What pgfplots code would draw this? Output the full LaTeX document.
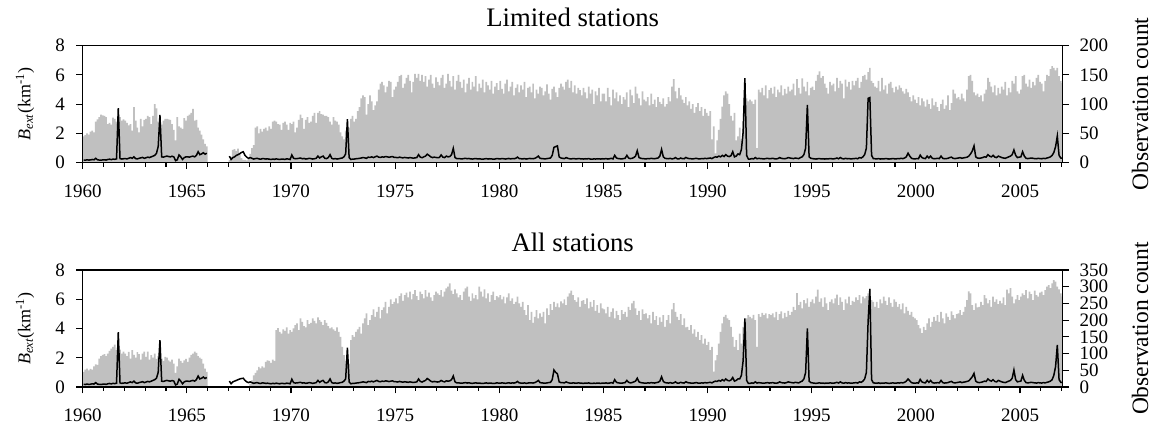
\documentclass[border=0pt]{standalone}
\usepackage{fontspec}
\setmainfont{Liberation Serif}
\usepackage{pgfplots}
\usepackage{pgfplotstable}
\pgfplotsset{compat=1.18}
\definecolor{bargray}{RGB}{192,192,192}

% monthly observation counts, limited stations (Jan 1960 ... Jan 2007, plus closing value)
\pgfplotstableread[row sep=\\, header=false]{
45\\ 47\\ 50\\ 48\\ 53\\ 55\\ 52\\ 70\\ 74\\ 78\\ 82\\ 81\\
80\\ 78\\ 66\\ 68\\ 65\\ 77\\ 75\\ 70\\ 68\\ 78\\ 72\\ 74\\
72\\ 68\\ 64\\ 66\\ 55\\ 95\\ 72\\ 60\\ 52\\ 75\\ 62\\ 73\\
75\\ 80\\ 78\\ 66\\ 80\\ 100\\ 93\\ 70\\ 55\\ 65\\ 72\\ 75\\
75\\ 74\\ 73\\ 66\\ 56\\ 38\\ 78\\ 62\\ 60\\ 58\\ 76\\ 72\\
80\\ 82\\ 85\\ 92\\ 72\\ 73\\ 60\\ 55\\ 48\\ 40\\ 32\\ 28\\
0\\ 0\\ 0\\ 0\\ 0\\ 0\\ 0\\ 0\\ 0\\ 0\\ 0\\ 0\\
5\\ 10\\ 22\\ 23\\ 20\\ 24\\ 15\\ 8\\ 5\\ 5\\ 4\\ 6\\
15\\ 25\\ 30\\ 60\\ 62\\ 50\\ 58\\ 53\\ 58\\ 60\\ 55\\ 62\\
58\\ 70\\ 72\\ 70\\ 66\\ 65\\ 56\\ 68\\ 70\\ 65\\ 56\\ 68\\
66\\ 70\\ 52\\ 60\\ 73\\ 82\\ 76\\ 58\\ 73\\ 78\\ 68\\ 70\\
80\\ 85\\ 68\\ 85\\ 88\\ 83\\ 82\\ 80\\ 80\\ 78\\ 70\\ 65\\
78\\ 72\\ 70\\ 65\\ 52\\ 45\\ 40\\ 55\\ 50\\ 60\\ 75\\ 80\\
70\\ 75\\ 88\\ 95\\ 110\\ 115\\ 112\\ 82\\ 100\\ 115\\ 105\\ 90\\
98\\ 105\\ 125\\ 135\\ 138\\ 132\\ 120\\ 130\\ 140\\ 138\\ 112\\ 125\\
130\\ 138\\ 148\\ 150\\ 128\\ 135\\ 145\\ 150\\ 140\\ 120\\ 138\\ 152\\
145\\ 152\\ 140\\ 150\\ 138\\ 148\\ 130\\ 142\\ 150\\ 135\\ 128\\ 146\\
138\\ 132\\ 145\\ 150\\ 128\\ 135\\ 152\\ 140\\ 130\\ 148\\ 125\\ 140\\
150\\ 138\\ 128\\ 142\\ 120\\ 135\\ 145\\ 125\\ 138\\ 130\\ 148\\ 122\\
135\\ 128\\ 142\\ 120\\ 138\\ 132\\ 125\\ 140\\ 118\\ 130\\ 136\\ 124\\
140\\ 126\\ 118\\ 135\\ 142\\ 122\\ 130\\ 138\\ 115\\ 128\\ 134\\ 120\\
132\\ 125\\ 138\\ 112\\ 128\\ 130\\ 120\\ 135\\ 110\\ 125\\ 118\\ 130\\
128\\ 115\\ 122\\ 134\\ 118\\ 108\\ 126\\ 130\\ 120\\ 112\\ 128\\ 135\\
130\\ 125\\ 138\\ 142\\ 128\\ 140\\ 120\\ 132\\ 118\\ 128\\ 124\\ 115\\
128\\ 120\\ 110\\ 130\\ 118\\ 125\\ 100\\ 122\\ 115\\ 128\\ 105\\ 118\\
118\\ 105\\ 128\\ 112\\ 98\\ 125\\ 110\\ 120\\ 105\\ 115\\ 100\\ 112\\
108\\ 120\\ 95\\ 125\\ 115\\ 102\\ 130\\ 118\\ 110\\ 98\\ 122\\ 108\\
105\\ 112\\ 98\\ 118\\ 100\\ 108\\ 95\\ 112\\ 104\\ 100\\ 110\\ 96\\
100\\ 112\\ 105\\ 130\\ 143\\ 122\\ 110\\ 128\\ 115\\ 108\\ 102\\ 112\\
98\\ 105\\ 92\\ 100\\ 85\\ 95\\ 102\\ 88\\ 95\\ 80\\ 92\\ 85\\
80\\ 88\\ 40\\ 62\\ 16\\ 38\\ 56\\ 75\\ 96\\ 115\\ 122\\ 118\\
100\\ 80\\ 72\\ 85\\ 38\\ 45\\ 60\\ 40\\ 70\\ 95\\ 110\\ 105\\
108\\ 105\\ 100\\ 108\\ 25\\ 125\\ 120\\ 128\\ 115\\ 132\\ 110\\ 124\\
128\\ 118\\ 130\\ 112\\ 125\\ 120\\ 132\\ 115\\ 126\\ 118\\ 130\\ 122\\
125\\ 135\\ 115\\ 143\\ 128\\ 118\\ 144\\ 130\\ 122\\ 138\\ 115\\ 128\\
130\\ 124\\ 140\\ 150\\ 156\\ 145\\ 148\\ 135\\ 128\\ 118\\ 138\\ 132\\
135\\ 122\\ 145\\ 128\\ 140\\ 135\\ 110\\ 142\\ 130\\ 138\\ 125\\ 140\\
132\\ 140\\ 145\\ 128\\ 138\\ 148\\ 150\\ 142\\ 155\\ 162\\ 140\\ 136\\
130\\ 128\\ 140\\ 122\\ 145\\ 125\\ 132\\ 118\\ 135\\ 138\\ 128\\ 120\\
130\\ 125\\ 132\\ 128\\ 122\\ 118\\ 126\\ 120\\ 112\\ 105\\ 115\\ 108\\
102\\ 112\\ 98\\ 110\\ 105\\ 96\\ 108\\ 100\\ 92\\ 110\\ 98\\ 104\\
95\\ 88\\ 100\\ 108\\ 92\\ 98\\ 115\\ 90\\ 102\\ 125\\ 118\\ 110\\
112\\ 108\\ 118\\ 110\\ 105\\ 125\\ 148\\ 150\\ 140\\ 120\\ 115\\ 118\\
112\\ 115\\ 105\\ 118\\ 125\\ 145\\ 138\\ 130\\ 120\\ 132\\ 115\\ 128\\
118\\ 130\\ 125\\ 138\\ 115\\ 128\\ 120\\ 140\\ 135\\ 148\\ 122\\ 118\\
125\\ 148\\ 150\\ 135\\ 130\\ 142\\ 128\\ 138\\ 132\\ 145\\ 150\\ 138\\
135\\ 122\\ 140\\ 150\\ 148\\ 160\\ 165\\ 162\\ 158\\ 162\\ 148\\ 140\\
136\\ 136\\
}\barsA

% monthly observation counts, all stations
\pgfplotstableread[row sep=\\, header=false]{
45\\ 52\\ 55\\ 50\\ 54\\ 52\\ 62\\ 68\\ 66\\ 85\\ 92\\ 96\\
98\\ 92\\ 100\\ 108\\ 115\\ 120\\ 127\\ 110\\ 105\\ 112\\ 100\\ 106\\
100\\ 92\\ 105\\ 85\\ 110\\ 96\\ 88\\ 104\\ 98\\ 82\\ 100\\ 106\\
90\\ 106\\ 82\\ 95\\ 88\\ 100\\ 84\\ 92\\ 80\\ 85\\ 78\\ 90\\
88\\ 80\\ 76\\ 82\\ 70\\ 42\\ 62\\ 85\\ 78\\ 72\\ 80\\ 84\\
75\\ 88\\ 96\\ 100\\ 106\\ 102\\ 92\\ 88\\ 84\\ 70\\ 55\\ 45\\
0\\ 0\\ 0\\ 0\\ 0\\ 0\\ 0\\ 0\\ 0\\ 0\\ 0\\ 0\\
0\\ 0\\ 0\\ 0\\ 0\\ 0\\ 0\\ 0\\ 0\\ 0\\ 0\\ 0\\
10\\ 20\\ 35\\ 42\\ 50\\ 60\\ 56\\ 62\\ 58\\ 75\\ 80\\ 78\\
72\\ 82\\ 78\\ 170\\ 176\\ 165\\ 160\\ 172\\ 168\\ 178\\ 160\\ 170\\
165\\ 175\\ 185\\ 190\\ 170\\ 205\\ 195\\ 182\\ 178\\ 200\\ 188\\ 192\\
205\\ 198\\ 190\\ 208\\ 200\\ 195\\ 185\\ 200\\ 192\\ 182\\ 175\\ 178\\
172\\ 168\\ 178\\ 165\\ 150\\ 120\\ 95\\ 78\\ 85\\ 70\\ 140\\ 155\\
150\\ 165\\ 172\\ 180\\ 160\\ 190\\ 205\\ 220\\ 185\\ 200\\ 215\\ 232\\
210\\ 225\\ 240\\ 205\\ 230\\ 238\\ 255\\ 220\\ 240\\ 262\\ 248\\ 255\\
265\\ 250\\ 272\\ 280\\ 258\\ 275\\ 282\\ 268\\ 285\\ 262\\ 278\\ 290\\
272\\ 260\\ 285\\ 278\\ 265\\ 290\\ 270\\ 282\\ 268\\ 258\\ 275\\ 285\\
280\\ 275\\ 290\\ 270\\ 285\\ 295\\ 300\\ 310\\ 288\\ 278\\ 292\\ 280\\
268\\ 275\\ 260\\ 285\\ 295\\ 300\\ 270\\ 258\\ 280\\ 265\\ 275\\ 262\\
300\\ 285\\ 270\\ 292\\ 265\\ 280\\ 255\\ 275\\ 285\\ 260\\ 272\\ 268\\
275\\ 262\\ 270\\ 250\\ 268\\ 280\\ 258\\ 265\\ 248\\ 255\\ 270\\ 250\\
240\\ 255\\ 230\\ 215\\ 245\\ 200\\ 225\\ 192\\ 210\\ 230\\ 205\\ 220\\
210\\ 225\\ 190\\ 235\\ 215\\ 248\\ 230\\ 255\\ 240\\ 250\\ 238\\ 256\\
250\\ 262\\ 245\\ 270\\ 280\\ 288\\ 275\\ 260\\ 255\\ 268\\ 240\\ 258\\
260\\ 248\\ 265\\ 235\\ 255\\ 240\\ 260\\ 228\\ 245\\ 222\\ 250\\ 235\\
232\\ 220\\ 240\\ 210\\ 225\\ 235\\ 205\\ 228\\ 215\\ 200\\ 230\\ 218\\
225\\ 210\\ 240\\ 230\\ 250\\ 258\\ 235\\ 215\\ 228\\ 200\\ 232\\ 218\\
220\\ 205\\ 215\\ 190\\ 225\\ 200\\ 212\\ 185\\ 208\\ 195\\ 215\\ 180\\
200\\ 215\\ 190\\ 232\\ 251\\ 225\\ 210\\ 200\\ 218\\ 185\\ 205\\ 178\\
180\\ 170\\ 185\\ 160\\ 172\\ 150\\ 165\\ 140\\ 155\\ 130\\ 145\\ 125\\
135\\ 110\\ 120\\ 46\\ 80\\ 95\\ 130\\ 165\\ 190\\ 210\\ 216\\ 205\\
200\\ 180\\ 150\\ 120\\ 140\\ 110\\ 160\\ 130\\ 180\\ 196\\ 205\\ 215\\
210\\ 205\\ 216\\ 200\\ 120\\ 218\\ 210\\ 222\\ 215\\ 220\\ 205\\ 218\\
215\\ 220\\ 208\\ 225\\ 200\\ 218\\ 226\\ 205\\ 222\\ 210\\ 228\\ 215\\
225\\ 240\\ 230\\ 281\\ 245\\ 255\\ 235\\ 260\\ 250\\ 265\\ 240\\ 255\\
262\\ 250\\ 270\\ 291\\ 255\\ 265\\ 240\\ 268\\ 250\\ 230\\ 255\\ 262\\
250\\ 265\\ 276\\ 245\\ 268\\ 255\\ 230\\ 262\\ 250\\ 270\\ 245\\ 258\\
255\\ 268\\ 260\\ 275\\ 250\\ 270\\ 265\\ 272\\ 280\\ 294\\ 260\\ 255\\
240\\ 255\\ 236\\ 262\\ 250\\ 270\\ 258\\ 245\\ 268\\ 252\\ 240\\ 262\\
255\\ 240\\ 248\\ 232\\ 250\\ 220\\ 240\\ 228\\ 216\\ 225\\ 210\\ 205\\
200\\ 185\\ 175\\ 161\\ 180\\ 170\\ 190\\ 205\\ 180\\ 195\\ 210\\ 198\\
215\\ 195\\ 225\\ 205\\ 190\\ 220\\ 210\\ 200\\ 226\\ 215\\ 205\\ 218\\
220\\ 230\\ 215\\ 225\\ 240\\ 260\\ 286\\ 280\\ 245\\ 230\\ 250\\ 238\\
240\\ 255\\ 245\\ 275\\ 265\\ 250\\ 260\\ 240\\ 270\\ 255\\ 262\\ 248\\
258\\ 250\\ 268\\ 245\\ 291\\ 280\\ 296\\ 270\\ 250\\ 262\\ 275\\ 260\\
270\\ 280\\ 275\\ 290\\ 265\\ 285\\ 278\\ 260\\ 288\\ 275\\ 270\\ 282\\
285\\ 275\\ 290\\ 300\\ 305\\ 296\\ 310\\ 320\\ 315\\ 300\\ 292\\ 280\\
270\\ 270\\
}\barsB

% monthly B_ext (km^-1), limited stations, mid-month values
\pgfplotstableread[row sep=\\, header=false]{
0.18\\ 0.17\\ 0.20\\ 0.18\\ 0.19\\ 0.22\\ 0.20\\ 0.30\\ 0.20\\ 0.18\\ 0.17\\ 0.19\\
0.20\\ 0.18\\ 0.22\\ 0.24\\ 0.21\\ 0.25\\ 0.23\\ 0.26\\ 3.73\\ 0.28\\ 0.25\\ 0.27\\
0.28\\ 0.26\\ 0.30\\ 0.35\\ 0.30\\ 0.40\\ 0.28\\ 0.26\\ 0.30\\ 0.33\\ 0.36\\ 0.30\\
0.34\\ 0.38\\ 0.35\\ 0.40\\ 0.45\\ 0.50\\ 0.64\\ 1.10\\ 3.27\\ 0.40\\ 0.38\\ 0.42\\
0.45\\ 0.42\\ 0.40\\ 0.44\\ 0.40\\ 0.14\\ 0.20\\ 0.53\\ 0.40\\ 0.22\\ 0.35\\ 0.40\\
0.40\\ 0.38\\ 0.42\\ 0.45\\ 0.40\\ 0.50\\ 0.75\\ 0.55\\ 0.60\\ 0.68\\ 0.58\\ 0.65\\
nan\\ nan\\ nan\\ nan\\ nan\\ nan\\ nan\\ nan\\ nan\\ nan\\ nan\\ nan\\
0.45\\ 0.22\\ 0.35\\ 0.40\\ 0.50\\ 0.55\\ 0.62\\ 0.70\\ 0.75\\ 0.50\\ 0.38\\ 0.30\\
0.35\\ 0.30\\ 0.25\\ 0.28\\ 0.30\\ 0.26\\ 0.24\\ 0.28\\ 0.27\\ 0.25\\ 0.26\\ 0.24\\
0.22\\ 0.25\\ 0.23\\ 0.26\\ 0.24\\ 0.22\\ 0.25\\ 0.24\\ 0.23\\ 0.26\\ 0.25\\ 0.22\\
0.53\\ 0.30\\ 0.27\\ 0.28\\ 0.30\\ 0.32\\ 0.27\\ 0.29\\ 0.25\\ 0.27\\ 0.30\\ 0.28\\
0.25\\ 0.27\\ 0.30\\ 0.45\\ 0.32\\ 0.40\\ 0.45\\ 0.30\\ 0.28\\ 0.35\\ 0.55\\ 0.30\\
0.26\\ 0.28\\ 0.25\\ 0.27\\ 0.30\\ 0.32\\ 0.40\\ 0.60\\ 2.97\\ 0.35\\ 0.22\\ 0.25\\
0.25\\ 0.27\\ 0.28\\ 0.30\\ 0.32\\ 0.35\\ 0.33\\ 0.30\\ 0.38\\ 0.36\\ 0.40\\ 0.35\\
0.40\\ 0.45\\ 0.38\\ 0.36\\ 0.40\\ 0.38\\ 0.42\\ 0.40\\ 0.37\\ 0.40\\ 0.42\\ 0.36\\
0.36\\ 0.34\\ 0.38\\ 0.35\\ 0.33\\ 0.36\\ 0.34\\ 0.32\\ 0.35\\ 0.33\\ 0.31\\ 0.33\\
0.35\\ 0.55\\ 0.38\\ 0.34\\ 0.40\\ 0.45\\ 0.58\\ 0.50\\ 0.40\\ 0.35\\ 0.38\\ 0.36\\
0.34\\ 0.36\\ 0.53\\ 0.38\\ 0.35\\ 0.45\\ 0.40\\ 0.42\\ 0.55\\ 0.98\\ 0.35\\ 0.28\\
0.28\\ 0.27\\ 0.26\\ 0.28\\ 0.30\\ 0.27\\ 0.29\\ 0.26\\ 0.25\\ 0.27\\ 0.28\\ 0.26\\
0.27\\ 0.25\\ 0.24\\ 0.26\\ 0.28\\ 0.25\\ 0.27\\ 0.26\\ 0.24\\ 0.25\\ 0.28\\ 0.27\\
0.26\\ 0.28\\ 0.27\\ 0.25\\ 0.27\\ 0.29\\ 0.26\\ 0.28\\ 0.27\\ 0.30\\ 0.38\\ 0.28\\
0.27\\ 0.26\\ 0.28\\ 0.25\\ 0.27\\ 0.29\\ 0.28\\ 0.27\\ 0.30\\ 0.36\\ 0.45\\ 0.30\\
0.28\\ 0.27\\ 0.26\\ 0.28\\ 0.30\\ 0.32\\ 0.50\\ 1.05\\ 1.10\\ 1.15\\ 0.40\\ 0.32\\
0.30\\ 0.28\\ 0.35\\ 0.30\\ 0.27\\ 0.26\\ 0.28\\ 0.27\\ 0.26\\ 0.28\\ 0.27\\ 0.26\\
0.25\\ 0.27\\ 0.26\\ 0.28\\ 0.25\\ 0.24\\ 0.26\\ 0.25\\ 0.27\\ 0.26\\ 0.25\\ 0.27\\
0.26\\ 0.28\\ 0.25\\ 0.27\\ 0.30\\ 0.26\\ 0.50\\ 0.32\\ 0.28\\ 0.27\\ 0.26\\ 0.28\\
0.30\\ 0.50\\ 0.32\\ 0.28\\ 0.30\\ 0.35\\ 0.45\\ 0.82\\ 0.35\\ 0.30\\ 0.28\\ 0.27\\
0.26\\ 0.28\\ 0.27\\ 0.30\\ 0.28\\ 0.27\\ 0.30\\ 0.32\\ 0.45\\ 0.91\\ 0.40\\ 0.30\\
0.28\\ 0.27\\ 0.30\\ 0.26\\ 0.28\\ 0.35\\ 0.27\\ 0.26\\ 0.32\\ 0.28\\ 0.27\\ 0.36\\
0.30\\ 0.28\\ 0.27\\ 0.26\\ 0.28\\ 0.30\\ 0.27\\ 0.26\\ 0.28\\ 0.27\\ 0.30\\ 0.28\\
0.30\\ 0.32\\ 0.28\\ 0.35\\ 0.40\\ 0.38\\ 0.45\\ 0.40\\ 0.50\\ 0.42\\ 0.55\\ 0.45\\
0.42\\ 0.48\\ 0.75\\ 0.40\\ 0.45\\ 0.60\\ 0.55\\ 0.90\\ 2.10\\ 5.78\\ 0.50\\ 0.25\\
0.25\\ 0.28\\ 0.26\\ 0.35\\ 0.27\\ 0.30\\ 0.28\\ 0.27\\ 0.26\\ 0.28\\ 0.30\\ 0.27\\
0.28\\ 0.30\\ 0.27\\ 0.26\\ 0.28\\ 0.35\\ 0.30\\ 0.28\\ 0.27\\ 0.30\\ 0.35\\ 0.32\\
0.30\\ 0.28\\ 0.32\\ 0.30\\ 0.28\\ 0.35\\ 0.40\\ 0.55\\ 1.00\\ 3.95\\ 0.40\\ 0.30\\
0.28\\ 0.26\\ 0.25\\ 0.27\\ 0.28\\ 0.26\\ 0.27\\ 0.25\\ 0.27\\ 0.26\\ 0.28\\ 0.27\\
0.26\\ 0.28\\ 0.32\\ 0.27\\ 0.35\\ 0.28\\ 0.26\\ 0.30\\ 0.27\\ 0.28\\ 0.26\\ 0.27\\
0.28\\ 0.30\\ 0.27\\ 0.35\\ 0.32\\ 0.40\\ 0.55\\ 1.00\\ 4.40\\ 4.45\\ 0.50\\ 0.28\\
0.27\\ 0.26\\ 0.28\\ 0.25\\ 0.27\\ 0.26\\ 0.28\\ 0.27\\ 0.25\\ 0.26\\ 0.28\\ 0.27\\
0.26\\ 0.28\\ 0.27\\ 0.30\\ 0.28\\ 0.32\\ 0.40\\ 0.65\\ 0.45\\ 0.30\\ 0.27\\ 0.26\\
0.28\\ 0.27\\ 0.52\\ 0.35\\ 0.30\\ 0.28\\ 0.45\\ 0.32\\ 0.45\\ 0.30\\ 0.27\\ 0.28\\
0.30\\ 0.28\\ 0.45\\ 0.30\\ 0.27\\ 0.28\\ 0.30\\ 0.35\\ 0.38\\ 0.30\\ 0.28\\ 0.30\\
0.32\\ 0.35\\ 0.30\\ 0.33\\ 0.35\\ 0.38\\ 0.45\\ 0.60\\ 0.80\\ 1.15\\ 0.40\\ 0.32\\
0.30\\ 0.32\\ 0.35\\ 0.40\\ 0.38\\ 0.55\\ 0.45\\ 0.40\\ 0.50\\ 0.38\\ 0.35\\ 0.45\\
0.40\\ 0.35\\ 0.32\\ 0.30\\ 0.35\\ 0.40\\ 0.45\\ 0.55\\ 0.87\\ 0.50\\ 0.35\\ 0.38\\
0.40\\ 0.75\\ 0.45\\ 0.30\\ 0.28\\ 0.30\\ 0.32\\ 0.30\\ 0.28\\ 0.27\\ 0.30\\ 0.28\\
0.27\\ 0.30\\ 0.28\\ 0.32\\ 0.35\\ 0.40\\ 0.50\\ 0.70\\ 1.10\\ 1.82\\ 0.50\\ 0.32\\
0.30\\
}\lineA

% monthly B_ext (km^-1), all stations
\pgfplotstableread[row sep=\\, header=false]{
0.18\\ 0.17\\ 0.20\\ 0.18\\ 0.19\\ 0.22\\ 0.20\\ 0.30\\ 0.20\\ 0.18\\ 0.17\\ 0.19\\
0.20\\ 0.18\\ 0.22\\ 0.24\\ 0.21\\ 0.25\\ 0.23\\ 0.26\\ 3.75\\ 0.28\\ 0.25\\ 0.27\\
0.28\\ 0.26\\ 0.30\\ 0.35\\ 0.30\\ 0.40\\ 0.28\\ 0.26\\ 0.30\\ 0.33\\ 0.36\\ 0.30\\
0.34\\ 0.38\\ 0.35\\ 0.40\\ 0.45\\ 0.50\\ 0.60\\ 1.00\\ 3.21\\ 0.40\\ 0.38\\ 0.42\\
0.45\\ 0.42\\ 0.40\\ 0.44\\ 0.40\\ 0.14\\ 0.20\\ 0.53\\ 0.40\\ 0.22\\ 0.35\\ 0.40\\
0.40\\ 0.38\\ 0.42\\ 0.45\\ 0.40\\ 0.50\\ 0.75\\ 0.55\\ 0.60\\ 0.68\\ 0.58\\ 0.65\\
nan\\ nan\\ nan\\ nan\\ nan\\ nan\\ nan\\ nan\\ nan\\ nan\\ nan\\ nan\\
0.40\\ 0.22\\ 0.35\\ 0.40\\ 0.45\\ 0.50\\ 0.55\\ 0.58\\ 0.60\\ 0.45\\ 0.35\\ 0.30\\
0.35\\ 0.30\\ 0.25\\ 0.28\\ 0.30\\ 0.26\\ 0.24\\ 0.28\\ 0.27\\ 0.25\\ 0.26\\ 0.24\\
0.22\\ 0.25\\ 0.23\\ 0.26\\ 0.24\\ 0.22\\ 0.25\\ 0.24\\ 0.23\\ 0.26\\ 0.25\\ 0.22\\
0.53\\ 0.30\\ 0.27\\ 0.28\\ 0.30\\ 0.32\\ 0.27\\ 0.29\\ 0.25\\ 0.27\\ 0.30\\ 0.28\\
0.25\\ 0.27\\ 0.30\\ 0.45\\ 0.32\\ 0.40\\ 0.45\\ 0.30\\ 0.28\\ 0.35\\ 0.55\\ 0.30\\
0.26\\ 0.28\\ 0.25\\ 0.27\\ 0.30\\ 0.32\\ 0.40\\ 0.55\\ 2.69\\ 0.35\\ 0.22\\ 0.25\\
0.25\\ 0.27\\ 0.28\\ 0.30\\ 0.32\\ 0.35\\ 0.33\\ 0.30\\ 0.38\\ 0.36\\ 0.40\\ 0.35\\
0.40\\ 0.45\\ 0.38\\ 0.36\\ 0.40\\ 0.38\\ 0.42\\ 0.40\\ 0.37\\ 0.40\\ 0.42\\ 0.36\\
0.36\\ 0.34\\ 0.38\\ 0.35\\ 0.33\\ 0.36\\ 0.34\\ 0.32\\ 0.35\\ 0.33\\ 0.31\\ 0.33\\
0.35\\ 0.55\\ 0.38\\ 0.34\\ 0.40\\ 0.45\\ 0.58\\ 0.50\\ 0.40\\ 0.35\\ 0.38\\ 0.36\\
0.34\\ 0.36\\ 0.45\\ 0.38\\ 0.35\\ 0.42\\ 0.40\\ 0.42\\ 0.50\\ 0.75\\ 0.35\\ 0.28\\
0.28\\ 0.27\\ 0.26\\ 0.28\\ 0.30\\ 0.27\\ 0.29\\ 0.26\\ 0.25\\ 0.27\\ 0.28\\ 0.26\\
0.27\\ 0.25\\ 0.24\\ 0.26\\ 0.28\\ 0.25\\ 0.27\\ 0.26\\ 0.24\\ 0.25\\ 0.28\\ 0.27\\
0.26\\ 0.28\\ 0.27\\ 0.25\\ 0.27\\ 0.29\\ 0.26\\ 0.28\\ 0.27\\ 0.30\\ 0.38\\ 0.28\\
0.27\\ 0.26\\ 0.28\\ 0.25\\ 0.27\\ 0.29\\ 0.28\\ 0.27\\ 0.30\\ 0.36\\ 0.45\\ 0.30\\
0.28\\ 0.27\\ 0.26\\ 0.28\\ 0.30\\ 0.32\\ 0.50\\ 1.16\\ 1.00\\ 0.90\\ 0.35\\ 0.30\\
0.30\\ 0.28\\ 0.35\\ 0.30\\ 0.27\\ 0.26\\ 0.28\\ 0.27\\ 0.26\\ 0.28\\ 0.27\\ 0.26\\
0.25\\ 0.27\\ 0.26\\ 0.28\\ 0.25\\ 0.24\\ 0.26\\ 0.25\\ 0.27\\ 0.26\\ 0.25\\ 0.27\\
0.26\\ 0.28\\ 0.25\\ 0.27\\ 0.30\\ 0.26\\ 0.50\\ 0.32\\ 0.28\\ 0.27\\ 0.26\\ 0.28\\
0.30\\ 0.45\\ 0.32\\ 0.28\\ 0.30\\ 0.35\\ 0.40\\ 0.60\\ 0.35\\ 0.30\\ 0.28\\ 0.27\\
0.26\\ 0.28\\ 0.27\\ 0.30\\ 0.28\\ 0.27\\ 0.30\\ 0.32\\ 0.40\\ 0.70\\ 0.38\\ 0.30\\
0.28\\ 0.27\\ 0.30\\ 0.26\\ 0.28\\ 0.35\\ 0.27\\ 0.26\\ 0.32\\ 0.28\\ 0.27\\ 0.36\\
0.30\\ 0.28\\ 0.27\\ 0.26\\ 0.28\\ 0.30\\ 0.27\\ 0.26\\ 0.28\\ 0.27\\ 0.30\\ 0.28\\
0.30\\ 0.32\\ 0.28\\ 0.35\\ 0.40\\ 0.38\\ 0.45\\ 0.40\\ 0.50\\ 0.42\\ 0.55\\ 0.45\\
0.42\\ 0.48\\ 0.65\\ 0.40\\ 0.45\\ 0.55\\ 0.55\\ 0.80\\ 1.80\\ 4.69\\ 0.45\\ 0.25\\
0.25\\ 0.28\\ 0.26\\ 0.35\\ 0.27\\ 0.30\\ 0.28\\ 0.27\\ 0.26\\ 0.28\\ 0.30\\ 0.27\\
0.28\\ 0.30\\ 0.27\\ 0.26\\ 0.28\\ 0.35\\ 0.30\\ 0.28\\ 0.27\\ 0.30\\ 0.35\\ 0.32\\
0.30\\ 0.28\\ 0.32\\ 0.30\\ 0.28\\ 0.35\\ 0.40\\ 0.55\\ 1.00\\ 4.00\\ 0.40\\ 0.30\\
0.28\\ 0.26\\ 0.25\\ 0.27\\ 0.28\\ 0.26\\ 0.27\\ 0.25\\ 0.27\\ 0.26\\ 0.28\\ 0.27\\
0.26\\ 0.28\\ 0.32\\ 0.27\\ 0.35\\ 0.28\\ 0.26\\ 0.30\\ 0.27\\ 0.28\\ 0.26\\ 0.27\\
0.28\\ 0.30\\ 0.27\\ 0.35\\ 0.32\\ 0.40\\ 0.55\\ 1.00\\ 4.50\\ 6.70\\ 0.50\\ 0.28\\
0.27\\ 0.26\\ 0.28\\ 0.25\\ 0.27\\ 0.26\\ 0.28\\ 0.27\\ 0.25\\ 0.26\\ 0.28\\ 0.27\\
0.26\\ 0.28\\ 0.27\\ 0.30\\ 0.28\\ 0.32\\ 0.40\\ 0.55\\ 0.42\\ 0.30\\ 0.27\\ 0.26\\
0.28\\ 0.27\\ 0.52\\ 0.35\\ 0.30\\ 0.28\\ 0.45\\ 0.32\\ 0.45\\ 0.30\\ 0.27\\ 0.28\\
0.30\\ 0.28\\ 0.45\\ 0.30\\ 0.27\\ 0.28\\ 0.30\\ 0.35\\ 0.38\\ 0.30\\ 0.28\\ 0.30\\
0.32\\ 0.35\\ 0.30\\ 0.33\\ 0.35\\ 0.38\\ 0.42\\ 0.55\\ 0.70\\ 0.93\\ 0.40\\ 0.32\\
0.30\\ 0.32\\ 0.35\\ 0.40\\ 0.38\\ 0.55\\ 0.45\\ 0.40\\ 0.50\\ 0.38\\ 0.35\\ 0.45\\
0.40\\ 0.35\\ 0.32\\ 0.30\\ 0.35\\ 0.40\\ 0.45\\ 0.60\\ 1.16\\ 0.50\\ 0.35\\ 0.38\\
0.40\\ 0.80\\ 0.45\\ 0.30\\ 0.28\\ 0.30\\ 0.32\\ 0.30\\ 0.28\\ 0.27\\ 0.30\\ 0.28\\
0.27\\ 0.30\\ 0.28\\ 0.32\\ 0.35\\ 0.40\\ 0.50\\ 0.80\\ 1.40\\ 2.87\\ 0.50\\ 0.32\\
0.30\\
}\lineB

\pgfplotsset{
  panel/.style={
    scale only axis, width=980pt, height=117pt, anchor=south west,
    xmin=1960, xmax=2007.05,
    tick align=outside,
    major tick length=6.5pt, minor tick length=4pt,
    every tick/.style={black, line width=1.1pt},
    axis line style={line width=1.1pt},
    tick label style={font=\fontsize{19}{22}\selectfont},
    /pgf/number format/assume math mode=true,
    /pgf/number format/1000 sep={},
  },
  leftpanel/.style={
    panel, ymin=0, ymax=8, ytick={0,2,4,6,8},
    xtick={1960,1965,...,2005}, minor xtick={1960,...,2007},
    xtick pos=bottom, ytick pos=left,
    xticklabel style={anchor=base, inner sep=0pt, yshift=-28.1pt},
    yticklabel style={anchor=east, inner sep=0pt, xshift=-11.2pt},
    every axis title/.style={at={(axis description cs:0.5,1)}, anchor=base, yshift=19pt,
      font=\fontsize{26.7}{30}\selectfont},
    every axis y label/.style={at={(axis description cs:-0.0589,0.5)}, anchor=center, rotate=90,
      font=\fontsize{18}{20}\selectfont},
    ylabel={\textit{B}\textsubscript{\textit{ext}}(km\textsuperscript{-1})},
  },
  rightpanel/.style={
    panel, axis x line=none, axis y line*=right, ytick pos=right,
    yticklabel style={anchor=west, inner sep=0pt, xshift=10.1pt},
    every axis y label/.style={at={(axis description cs:1.0789,0.5)}, anchor=center, rotate=90,
      font=\fontsize{23.5}{26}\selectfont},
    ylabel={Observation count},
  },
}

\begin{document}
\begin{tikzpicture}
\useasboundingbox (0,0) rectangle (1157pt,430pt);

% upper panel: limited stations
\begin{axis}[rightpanel, at={(82.7pt,267.3pt)}, ymin=0, ymax=200, ytick={0,50,...,200}]
  \addplot[draw=none, fill=bargray, const plot mark left]
    table[x expr=1960+\coordindex/12, y index=0] {\barsA} \closedcycle;
\end{axis}
\begin{axis}[leftpanel, at={(82.7pt,267.3pt)}, title={Limited stations}]
  \addplot[black, line width=1.5pt, unbounded coords=jump]
    table[x expr=1960+(\coordindex+0.5)/12, y index=0] {\lineA};
\end{axis}

% lower panel: all stations
\begin{axis}[rightpanel, at={(82.7pt,43pt)}, ymin=0, ymax=350, ytick={0,50,...,350}]
  \addplot[draw=none, fill=bargray, const plot mark left]
    table[x expr=1960+\coordindex/12, y index=0] {\barsB} \closedcycle;
\end{axis}
\begin{axis}[leftpanel, at={(82.7pt,43pt)}, title={All stations}]
  \addplot[black, line width=1.5pt, unbounded coords=jump]
    table[x expr=1960+(\coordindex+0.5)/12, y index=0] {\lineB};
\end{axis}
\end{tikzpicture}
\end{document}
